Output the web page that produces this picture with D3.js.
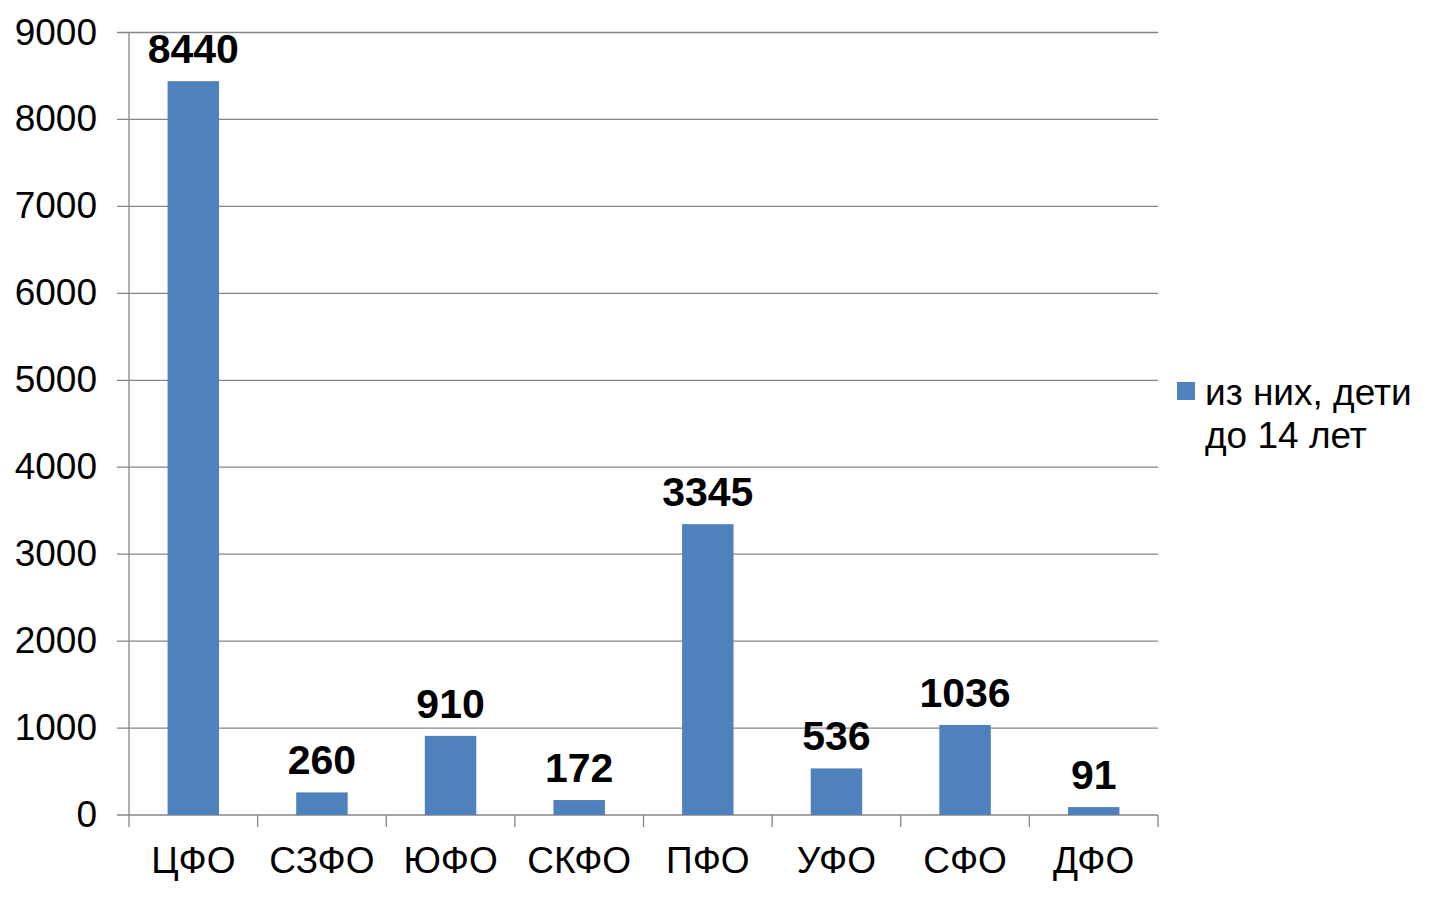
<!DOCTYPE html>
<html lang="ru">
<head>
    <meta charset="UTF-8">
    <title>из них, дети до 14 лет</title>
    <script src="https://d3js.org/d3.v7.min.js"></script>
    <style>
        html, body {
            margin: 0;
            padding: 0;
            background: white;
        }
        svg text {
            font-family: Arial, "Liberation Sans", sans-serif;
            fill: #000;
        }
    </style>
</head>
<body>
    <svg id="chart" width="1442" height="898"></svg>

    <script>
        // Data
        const categories = ['ЦФО', 'СЗФО', 'ЮФО', 'СКФО', 'ПФО', 'УФО', 'СФО', 'ДФО'];
        const values = [8440, 260, 910, 172, 3345, 536, 1036, 91];
        const yTicks = [0, 1000, 2000, 3000, 4000, 5000, 6000, 7000, 8000, 9000];
        const legendLines = ['из них, дети', 'до 14 лет'];

        const barColor = '#4f81bd';
        const gridColor = '#868686';

        const plot = {left: 129, right: 1158, top: 32.5, bottom: 815};

        const svg = d3.select('#chart');

        const x = d3.scaleBand()
            .domain(categories)
            .range([plot.left, plot.right])
            .paddingInner(0.6)
            .paddingOuter(0.3);

        const y = d3.scaleLinear()
            .domain([0, 9000])
            .range([plot.bottom, plot.top]);

        // Horizontal gridlines (with little tick stubs on the left)
        svg.append('g')
            .selectAll('line')
            .data(yTicks)
            .join('line')
            .attr('x1', plot.left - 12)
            .attr('x2', plot.right)
            .attr('y1', d => y(d))
            .attr('y2', d => y(d))
            .attr('stroke', gridColor)
            .attr('stroke-width', 1.3);

        // Y tick labels
        svg.append('g')
            .selectAll('text')
            .data(yTicks)
            .join('text')
            .attr('x', plot.left - 32)
            .attr('y', d => y(d) + 12)
            .attr('text-anchor', 'end')
            .attr('font-size', 37)
            .text(d => d);

        // Y axis line
        svg.append('line')
            .attr('x1', plot.left)
            .attr('x2', plot.left)
            .attr('y1', plot.top)
            .attr('y2', plot.bottom)
            .attr('stroke', gridColor)
            .attr('stroke-width', 1.3);

        // X axis ticks at band boundaries
        const step = x.step();
        const boundaries = d3.range(categories.length + 1).map(i => plot.left + i * step);
        svg.append('g')
            .selectAll('line')
            .data(boundaries)
            .join('line')
            .attr('x1', d => d)
            .attr('x2', d => d)
            .attr('y1', plot.bottom)
            .attr('y2', plot.bottom + 12)
            .attr('stroke', gridColor)
            .attr('stroke-width', 1.3);

        // Bars
        svg.append('g')
            .selectAll('rect')
            .data(values)
            .join('rect')
            .attr('x', (d, i) => x(categories[i]))
            .attr('y', d => y(d))
            .attr('width', x.bandwidth())
            .attr('height', d => y(0) - y(d))
            .attr('fill', barColor);

        // Value labels
        svg.append('g')
            .selectAll('text')
            .data(values)
            .join('text')
            .attr('x', (d, i) => x(categories[i]) + x.bandwidth() / 2)
            .attr('y', d => y(d) - 18)
            .attr('text-anchor', 'middle')
            .attr('font-size', 41)
            .attr('font-weight', 'bold')
            .text(d => d);

        // Category labels
        svg.append('g')
            .selectAll('text')
            .data(categories)
            .join('text')
            .attr('x', d => x(d) + x.bandwidth() / 2)
            .attr('y', 873)
            .attr('text-anchor', 'middle')
            .attr('font-size', 37)
            .text(d => d);

        // Legend
        const legend = svg.append('g');
        legend.append('rect')
            .attr('x', 1177)
            .attr('y', 382)
            .attr('width', 18)
            .attr('height', 18)
            .attr('fill', barColor);
        legend.selectAll('text')
            .data(legendLines)
            .join('text')
            .attr('x', 1205)
            .attr('y', (d, i) => 405 + i * 43)
            .attr('font-size', 37)
            .text(d => d);
    </script>
</body>
</html>
